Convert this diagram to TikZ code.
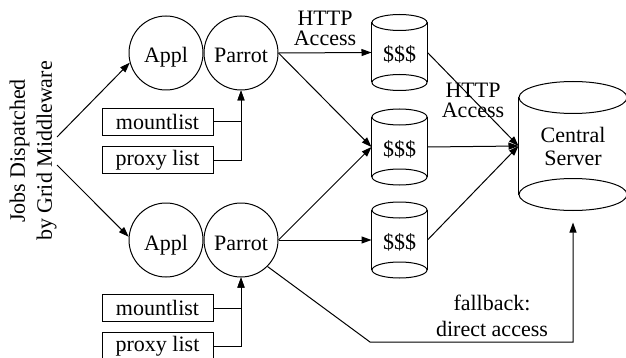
\documentclass[tikz,border=0pt]{standalone}
\usepackage{fontspec}
\setmainfont{Liberation Serif}
\usetikzlibrary{arrows.meta,positioning}

\begin{document}
\begin{tikzpicture}[x=0.5pt,y=-0.5pt,node distance=0pt,line width=0.5pt,
    font=\fontsize{11}{13}\selectfont,
    job/.style={draw,circle,minimum size=37pt,inner sep=0pt,text height=10pt,text depth=0pt},
    lst/.style={draw,rectangle,minimum width=55.5pt,minimum height=13.5pt,inner sep=0pt},
    cache/.style={rectangle,minimum width=27.5pt,minimum height=29.5pt,inner sep=0pt,text height=9pt,text depth=0pt},
    lbl/.style={align=center,font=\fontsize{11}{10}\selectfont},
    arr/.style={-{Triangle[length=5pt,width=3.5pt]}}]
    \useasboundingbox (0,0) rectangle (626,358);
    \node[rotate=90,align=center,inner sep=0pt,font=\fontsize{11}{13.5}\selectfont] (jobs) at (33,151)
      {Jobs Dispatched\\by Grid Middleware};
    % upper job
    \node[job] (a1) at (166,53) {Appl};
    \node[job,right=0pt of a1] (p1) {Parrot};
    \node[lst] (m1) at (157.5,122) {mountlist};
    \node[lst,below=5pt of m1] (x1) {proxy list};
    % lower job
    \node[job] (a2) at (166,240) {Appl};
    \node[job,right=0pt of a2] (p2) {Parrot};
    \node[lst] (m2) at (157.5,308) {mountlist};
    \node[lst,below=5pt of m2] (x2) {proxy list};
    % caches and server
    \node[cache] (c1) at (399.5,52.5) {\$\$\$};
    \node[cache] (c2) at (399.5,147) {\$\$\$};
    \node[cache] (c3) at (399.5,240) {\$\$\$};
    \node[cache,minimum width=54pt,minimum height=48pt,align=center,text height=,text depth=,
      font=\fontsize{11}{11.5}\selectfont] (srv) at (573,146) {Central\\Server};
    % cylinder outlines
    \foreach \c/\rx/\ry in {c1/13.75/4,c2/13.75/4,c3/13.75/4,srv/27/8} {
      \draw (\c.north west) -- (\c.south west);
      \draw (\c.north east) -- (\c.south east);
      \draw (\c.north) ellipse [x radius=\rx pt,y radius=\ry pt];
      \draw (\c.south) ellipse [x radius=\rx pt,y radius=\ry pt];
    }
    \node[lbl] (h1) at (325,28) {HTTP\\Access};
    \node[lbl] (h2) at (473,100) {HTTP\\Access};
    \node[align=center] (fb) at (492,316) {fallback:\\direct access};
    \coordinate (fbc) at (370,342);
    \draw[arr] ([yshift=7pt]jobs.south) -- (a1.195);
    \draw[arr] ([yshift=-7pt]jobs.south) -- (a2.175);
    \draw[arr] (m1.east) -| (p1.south);
    \draw[arr] (x1.east) -| (p1.south);
    \draw[arr] (m2.east) -| (p2.south);
    \draw[arr] (x2.east) -| (p2.south);
    \draw[arr] (p1.east) -- (c1.west);
    \draw[arr] (p1.east) -- (c2.west);
    \draw[arr] (p2.east) -- (c2.west);
    \draw[arr] (p2.east) -- (c3.west);
    \draw[arr] (c1.east) -- (srv.west);
    \draw[arr] (c2.east) -- (srv.west);
    \draw[arr] (c3.east) -- (srv.west);
    \draw[arr,shorten >=14pt] (p2.-45) -- (fbc) -| (srv.south);
\end{tikzpicture}
\end{document}
